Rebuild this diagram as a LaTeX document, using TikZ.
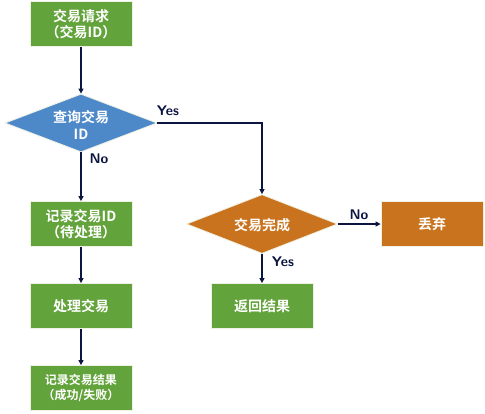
\documentclass[tikz,border=0pt]{standalone}
\usepackage{fontspec}
\newfontfamily\cjk{Noto Sans CJK SC}[BoldFont={Noto Sans CJK SC Bold}]
\usetikzlibrary{shapes.geometric,arrows.meta}
\definecolor{boxgreen}{HTML}{63A33B}
\definecolor{dblue}{HTML}{4D88C9}
\definecolor{dorange}{HTML}{C9731E}
\definecolor{lnavy}{HTML}{0B1540}
\definecolor{edgecream}{HTML}{EEF0E2}
\tikzset{
  stepbox/.style={draw=edgecream, line width=0.8pt, minimum width=102pt, minimum height=45pt, text=white, font=\cjk\bfseries\fontsize{14}{16.5}\selectfont, align=center, inner sep=0pt},
  decide/.style={diamond, aspect=2.6, draw=edgecream, line width=0.8pt, inner sep=0pt},
  dtext/.style={text=white, font=\cjk\bfseries\fontsize{14}{16.5}\selectfont, align=center},
  conn/.style={draw=lnavy, line width=1.3pt, -{Triangle[length=5pt,width=5pt]}},
  lab/.style={text=lnavy, font=\sffamily\bfseries\fontsize{14}{16}\selectfont, inner sep=0pt}
}
\begin{document}
\begin{tikzpicture}[x=1pt,y=-1pt]
\useasboundingbox (0,0) rectangle (485,413);
\node[stepbox, fill=boxgreen] (req) at (81,24) {交易请求\\（交易ID）};
\node[decide, fill=dblue, minimum width=152pt, minimum height=58pt] (q) at (81,123) {};
\node[dtext] (qt) at (81,125) {查询交易\\ID};
\node[stepbox, fill=boxgreen] (rec) at (81,224) {记录交易ID\\（待处理）};
\node[stepbox, fill=boxgreen] (proc) at (81,306) {处理交易};
\node[stepbox, fill=boxgreen, font=\cjk\bfseries\fontsize{12}{14.5}\selectfont] (res) at (81,388) {记录交易结果\\（成功/失败）};
\node[decide, fill=dorange, minimum width=151pt, minimum height=59pt] (done) at (262,224) {};
\node[dtext] (dt) at (262,225) {交易完成};
\node[stepbox, fill=dorange] (drop) at (432,224) {丢弃};
\node[stepbox, fill=boxgreen] (ret) at (262,306) {返回结果};
\coordinate (corner) at (262,123);
\draw[conn] (req) -- (q);
\draw[conn] (q) -- (rec);
\draw[conn] (rec) -- (proc);
\draw[conn] (proc) -- (res);
\draw[conn] (q.east) -- (corner) -- (done);
\draw[conn] (done.east) -- (drop);
\draw[conn] (done) -- (ret);
\node[lab] (l1) at (168,111) {Yes};
\node[lab] (l2) at (99,159) {No};
\node[lab] (l3) at (359,215) {No};
\node[lab] (l4) at (283,262) {Yes};
\end{tikzpicture}
\end{document}
